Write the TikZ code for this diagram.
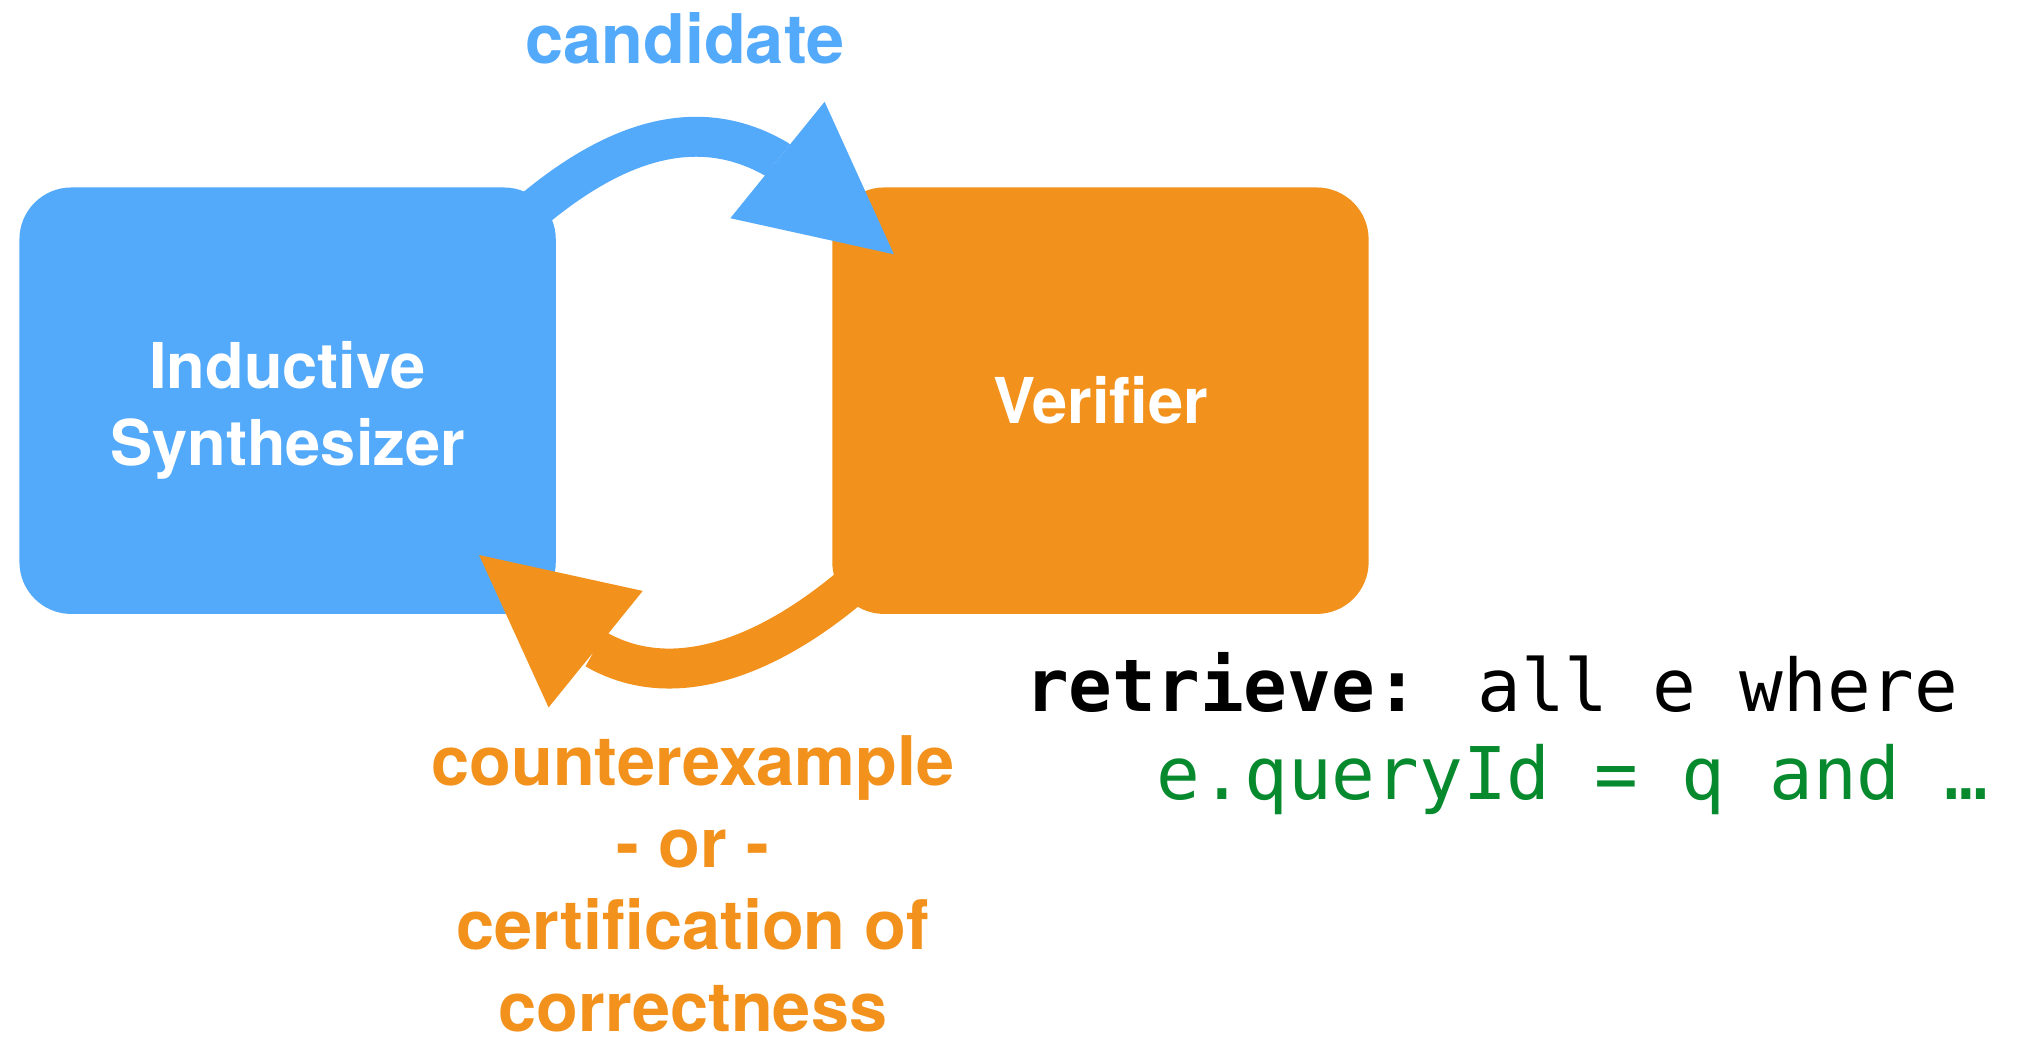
\documentclass[tikz,border=0pt]{standalone}
\usepackage{fontspec}
\setmainfont{TeX Gyre Heros}
\newfontfamily\codefont{DejaVu Sans Mono}
\usetikzlibrary{calc,arrows.meta}
\definecolor{keyblue}{HTML}{53A9FA}
\definecolor{keyorange}{HTML}{F2921D}
\definecolor{codegreen}{HTML}{07892E}
\tikzset{
  module/.style={rounded corners=5.2mm, minimum width=53.7mm, minimum height=42.7mm,
    inner sep=0pt, text=white, align=center, font=\fontsize{18}{22}\selectfont\bfseries},
  flow/.style={line width=4mm, -{Triangle[length=15mm, width=15mm, line width=0pt]}},
  flowtext/.style={inner sep=0pt, align=center, font=\fontsize{19.5}{23.4}\selectfont\bfseries},
  codeline/.style={inner sep=0pt, anchor=base west, font=\codefont\fontsize{20.7}{25}\selectfont}
}

\begin{document}
\begin{tikzpicture}[x=0.13mm, y=0.13mm]

  \path[use as bounding box, fill=white] (0,0) rectangle (1568,-802);

  % the two boxes
  \node[module, fill=keyblue] (syn) at (221.5,-308.6) {\rule{0pt}{19pt}Inductive\\Synthesizer};
  \node[module, fill=keyorange] (ver) at (847.5,-308.6) {Verifier};

  % candidate: synthesizer to verifier
  \coordinate (candOut) at ($(syn.north east)+(-17,-17)$);
  \coordinate (candTip) at ($(ver.north west)+(48,-52)$);
  \draw[flow, keyblue] (candOut) .. controls +(70,58) and +(-55,32)
    .. ($(candTip)+(-90.4,73.2)$) -- (candTip);

  % counterexample: verifier back to synthesizer
  \coordinate (ceOut) at ($(ver.south west)+(13,20)$);
  \coordinate (ceTip) at ($(syn.south east)+(-59.6,45.9)$);
  \draw[flow, keyorange] (ceOut) .. controls +(-70,-58) and +(55,-32)
    .. ($(ceTip)+(89.5,-72.3)$) -- (ceTip);

  % labels
  \node[flowtext, text=keyblue, anchor=base] (cand) at (527.5,-48.8) {candidate};
  \node[flowtext, text=keyorange, anchor=north] (ce) at (533.7,-566)
    {counterexample\\- or -\\certification of\\correctness};

  % query
  \node[codeline] (retr) at (789,-548.1) {\textbf{retrieve:} all e where};
  \node[codeline, text=codegreen] (cond) at (890.5,-615.6) {e.queryId = q and …};

\end{tikzpicture}
\end{document}
